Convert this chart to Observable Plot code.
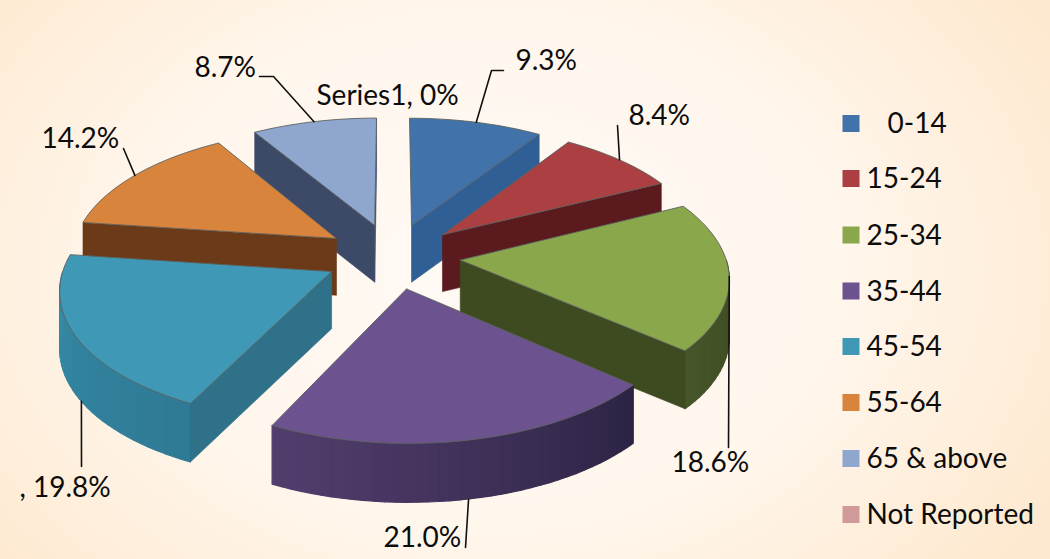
<!DOCTYPE html>
<html>
<head>
<meta charset="utf-8">
<script src="https://cdn.jsdelivr.net/npm/d3@7"></script>
<script src="https://cdn.jsdelivr.net/npm/@observablehq/plot@0.6"></script>
<style>
html,body{margin:0;padding:0}
body{width:1050px;height:559px;overflow:hidden;background:radial-gradient(ellipse 640px 470px at 490px 270px,#fffaf5 0%,#fff6ec 55%,#fee9d0 100%)}
svg{display:block}
</style>
</head>
<body>
<div id="chart"></div>
<script>
// Data
const categories = ["0-14","15-24","25-34","35-44","45-54","55-64","65 & above","Not Reported"];
const shares = [9.3,8.4,18.6,21.0,19.8,14.2,8.7,0];
const valueLabels = ["9.3%","8.4%","18.6%","21.0%",", 19.8%","14.2%","8.7%","Series1, 0%"];

// Styles
const topColors = ["#4272aa","#ab3f41","#8aa84b","#6d5290","#3f98b5","#d9843c","#8fa6cf","#d09a9a"];
const radialWallColors = ["#2f5f95","#5a1a1e","#3e4a1f","#3a2c55","#2f7189","#6b3a18","#3c4a68","#888"];
const arcWallFrom = ["#2f5f95","#5a1a1e","#3d4a1e","#2d2444","#2f7a95","#6b3a18","#3c4a68","#888"];
const arcWallTo = ["#2f5f95","#5a1a1e","#46552a","#523e6e","#358aa5","#6b3a18","#3c4a68","#888"];
const paintOrder = [0,6,1,5,2,4,3];

// Layout of the tilted pie
const cx = 392, cy = 255.5, radius = 265, explode = 68, focal = 2200, horizon = 1056, thick = 57;
const rad = d => d * Math.PI / 180;
function project(X, Y, down = false) {
  const s = focal / (focal + Y);
  const base = cy + horizon * (s - 1);
  return {x: cx + X * s, y: base + (down ? thick * Math.pow(s, 0.2) : 0)};
}

// Wedge geometry from the shares
let acc = 0;
const wedges = shares.map((v, i) => {
  const a0 = acc * 3.6; acc += v; const a1 = acc * 3.6;
  const mid = rad((a0 + a1) / 2);
  return {i, a0, a1, tx: explode * Math.sin(mid), ty: explode * Math.cos(mid)};
});
const rim = (w, a, down) => project(w.tx + radius * Math.sin(rad(a)), w.ty + radius * Math.cos(rad(a)), down);
const tip = (w, down) => project(w.tx, w.ty, down);
const arcAngles = (a0, a1) => { const n = Math.max(2, Math.ceil((a1 - a0) / 2)); return d3.range(n + 1).map(k => a0 + (a1 - a0) * k / n); };

const poly = (pts, fill, stroke, sw) => Plot.line([...pts, pts[0]], {x: "x", y: "y", fill, stroke, strokeWidth: sw, curve: "linear", strokeLinejoin: "round"});

const pieMarks = [];
for (const i of paintOrder) {
  const w = wedges[i];
  // outer wall strips, only the part that faces the viewer
  const lo = Math.max(w.a0, 90), hi = Math.min(w.a1, 270);
  if (hi > lo) {
    const as = arcAngles(lo, hi);
    const mix = d3.interpolateRgb(arcWallFrom[i], arcWallTo[i]);
    const aLo = as[0], aHi = as[as.length - 1];
    as.slice(1).forEach((b, k) => {
      const a = as[k];
      const c = mix(((a + b) / 2 - aLo) / (aHi - aLo));
      pieMarks.push(poly([rim(w, a), rim(w, b), rim(w, b, true), rim(w, a, true)], c, c, 1.2));
    });
  }
  // radial wall that faces the viewer
  const sS = Math.sin(rad(w.a0)), sE = Math.sin(rad(w.a1));
  if (sS < 0) pieMarks.push(poly([tip(w), rim(w, w.a0), rim(w, w.a0, true), tip(w, true)], radialWallColors[i], radialWallColors[i], 0.6));
  if (sE > 0) pieMarks.push(poly([tip(w), rim(w, w.a1), rim(w, w.a1, true), tip(w, true)], radialWallColors[i], radialWallColors[i], 0.6));
  // top face
  const top = [tip(w), ...arcAngles(w.a0, w.a1).map(a => rim(w, a))];
  pieMarks.push(poly(top, topColors[i], "#5c625f", 0.9));
}

// Leader lines: from the wedge rim through the elbows to the label
const leaderElbows = {
  0: [[491,70],[503,70]],
  1: [[617,125]],
  2: [[728,447]],
  3: [[465,547]],
  4: [[81,466]],
  5: [[123,148]],
  6: [[273,76],[259,76]]
};
const leaderFromBottom = {3: true, 4: true};
const leaderArcFraction = {3: 0.505, 4: 0.46};
const leaderMarks = Object.entries(leaderElbows).map(([k, elbows]) => {
  const w = wedges[+k];
  const f = leaderArcFraction[k] ?? 0.5;
  const s = rim(w, w.a0 + (w.a1 - w.a0) * f, !!leaderFromBottom[k]);
  const pts = [[s.x, s.y], ...elbows];
  return Plot.line(pts, {x: d => d[0], y: d => d[1], stroke: "#111", strokeWidth: 1.6, curve: "linear"});
});

// Label and legend placement
const labelAnchors = [[515,61],[628,116],[671,463],[383,538],[19,488],[41,139],[194,68],[316,96]];
const labelRows = valueLabels.map((t, i) => ({t, x: labelAnchors[i][0], y: labelAnchors[i][1]}));
const legendYs = [124,179,235.5,291.5,347,403,459,515];
const swatchYs = [123,178,234.5,290.5,346,402,458,514];
const legendTextX = [887,866,866,866,866,866,866,866];
const legendRows = categories.map((t, i) => ({t, y: legendYs[i], sy: swatchYs[i], x: legendTextX[i], c: topColors[i]}));

const font = "Lato, 'Open Sans', sans-serif";
const plot = Plot.plot({
  width: 1050, height: 559, margin: 0,
  style: {background: "transparent", fontFamily: font},
  x: {domain: [0, 1050], range: [0, 1050], axis: null},
  y: {domain: [0, 559], range: [0, 559], axis: null},
  color: {type: "identity"},
  marks: [
    ...pieMarks,
    ...leaderMarks,
    Plot.text(labelRows, {x: "x", y: "y", text: "t", textAnchor: "start", fontSize: 28, fill: "#0c0c0c", lineAnchor: "middle"}),
    Plot.dot(legendRows, {x: () => 850.5, y: "sy", symbol: "square", r: 9.6, fill: "c", stroke: "none"}),
    Plot.text(legendRows, {x: "x", y: "y", text: "t", textAnchor: "start", fontSize: 28, fill: "#0c0c0c", lineAnchor: "middle"})
  ]
});
document.getElementById("chart").appendChild(plot);
</script>
</body>
</html>
